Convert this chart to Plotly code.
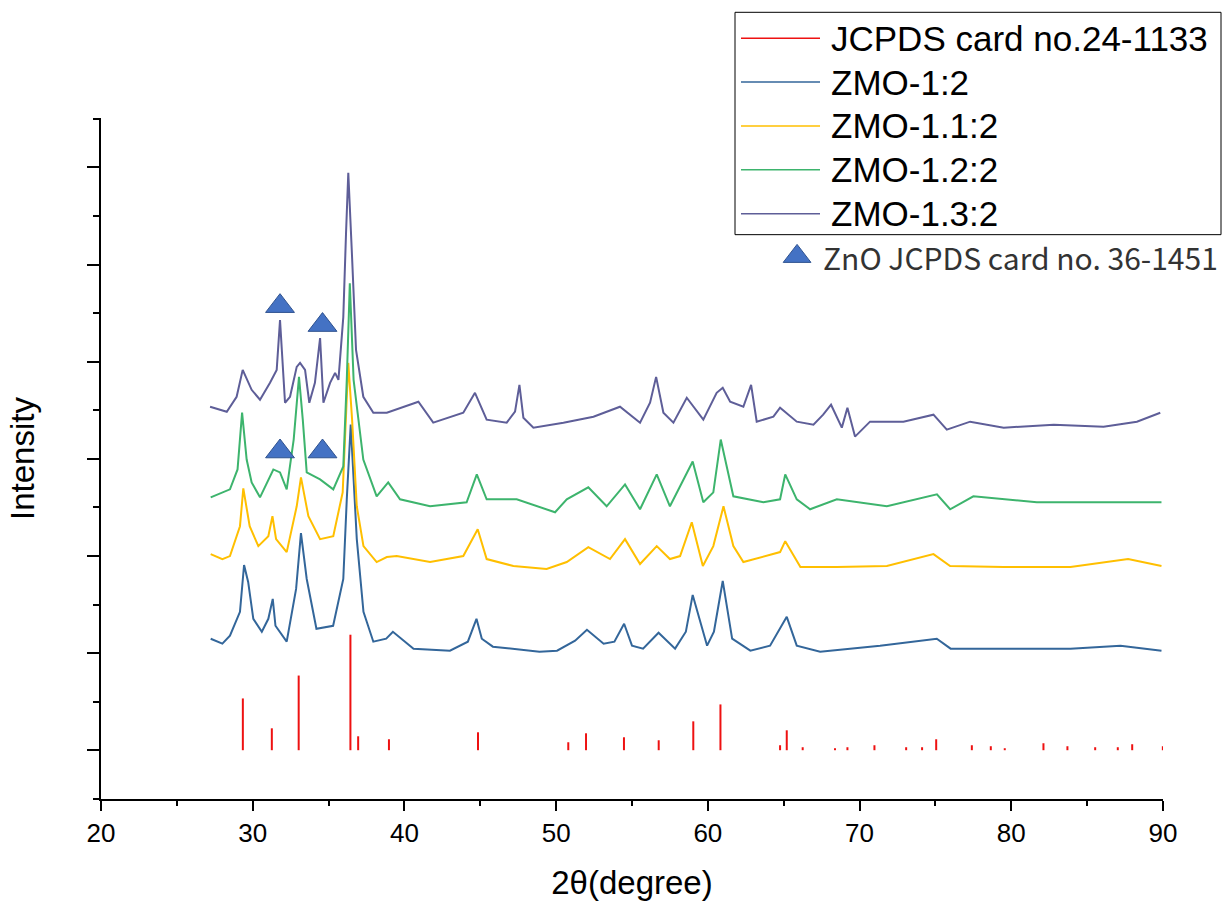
import plotly.graph_objects as go

# ---------------- data (2θ in degrees, intensity in a.u.) ----------------
stick_pos = [29.35, 31.26, 33.03, 36.44, 36.95, 38.98, 44.85, 50.80, 51.97, 54.47,
             56.76, 59.04, 60.83, 64.76, 65.20, 66.25, 68.38, 69.20, 70.98, 73.07,
             74.12, 75.05, 77.40, 78.65, 79.57, 82.12, 83.70, 85.53, 87.02, 87.97, 89.99]
stick_height = [52, 22, 75, 116, 14, 11, 18, 8, 17, 13,
                10, 29, 46, 5, 20, 3, 2, 3, 5, 3,
                3, 11, 5, 4, 2, 7, 4, 3, 3, 6, 4]
STICK_BASE = 49

zmo12_x = [27.23, 28.0, 28.5, 29.16, 29.43, 29.7, 30.04, 30.6, 31.03, 31.32, 31.5, 32.24,
           32.86, 33.18, 33.56, 34.2, 35.3, 35.97, 36.2, 36.46, 36.86, 37.3, 37.95, 38.8,
           39.24, 40.6, 43.0, 44.18, 44.75, 45.1, 45.83, 48.9, 50.06, 51.25, 52.03, 53.13,
           53.84, 54.48, 55.0, 55.73, 56.75, 57.84, 58.55, 59.0, 59.95, 60.4, 60.98, 61.6,
           62.8, 64.1, 65.2, 65.86, 67.4, 71.35, 75.09, 76.0, 79.5, 83.9, 87.2, 89.9]
zmo12_y = [161, 156, 164, 188, 235, 218, 181, 168, 181, 201, 174, 158,
           211, 267, 221, 171, 174, 221, 301, 376, 261, 188, 158, 161,
           168, 151, 149, 158, 181, 161, 153, 148, 149, 159, 170, 156,
           158, 176, 154, 151, 167, 151, 168, 205, 154, 168, 219, 161,
           149, 154, 183, 154, 148, 154, 161, 151, 151, 151, 154, 149]

zmo112_x = [27.23, 28.0, 28.5, 29.16, 29.38, 29.8, 30.37, 31.03, 31.3, 31.54, 32.24, 32.9,
            33.18, 33.67, 34.44, 35.31, 35.93, 36.1, 36.3, 36.55, 36.86, 37.3, 38.17, 38.84,
            39.49, 41.69, 43.88, 44.83, 45.42, 47.18, 49.37, 50.7, 52.12, 53.55, 54.54, 55.53,
            56.63, 57.5, 58.17, 58.94, 59.67, 60.36, 61.03, 61.68, 62.34, 64.76, 65.1, 66.1,
            68.5, 71.8, 74.87, 75.97, 79.5, 83.9, 87.7, 89.9]
zmo112_y = [246, 241, 244, 274, 312, 274, 254, 264, 284, 261, 248, 294,
            323, 284, 261, 264, 308, 361, 438, 381, 294, 254, 238, 243,
            244, 238, 244, 271, 241, 234, 231, 238, 253, 241, 261, 236,
            254, 241, 244, 278, 234, 254, 294, 254, 238, 248, 259, 233,
            233, 234, 246, 234, 233, 233, 241, 234]

zmo122_x = [27.23, 28.5, 29.0, 29.3, 29.6, 29.93, 30.48, 31.36, 31.8, 32.24, 32.7, 33.05,
            33.3, 33.56, 34.44, 35.31, 35.97, 36.2, 36.4, 36.65, 37.29, 38.17, 38.93, 39.71,
            41.69, 44.1, 44.77, 45.42, 47.4, 49.93, 50.7, 52.12, 53.33, 54.54, 55.53, 56.63,
            57.5, 59.0, 59.7, 60.36, 60.85, 61.68, 63.66, 64.76, 65.1, 65.86, 66.74, 68.5,
            71.8, 75.1, 75.97, 77.5, 81.68, 86.1, 89.9]
zmo122_y = [303, 311, 331, 388, 341, 318, 303, 331, 328, 311, 361, 424,
            381, 328, 321, 311, 334, 421, 518, 421, 341, 304, 318, 301,
            294, 298, 326, 301, 301, 288, 301, 313, 294, 316, 291, 326,
            294, 339, 298, 308, 361, 304, 298, 301, 326, 301, 291, 301,
            294, 306, 291, 304, 298, 298, 298]

zmo132_x = [27.19, 28.29, 28.94, 29.34, 29.93, 30.48, 31.14, 31.58, 31.8, 32.13, 32.46, 32.9,
            33.12, 33.45, 33.73, 34.1, 34.44, 34.66, 35.1, 35.43, 35.65, 35.97, 36.15, 36.3,
            36.53, 36.81, 37.29, 37.95, 38.84, 40.92, 41.9, 43.88, 44.65, 45.42, 46.74, 47.29,
            47.58, 47.84, 48.5, 50.48, 52.46, 54.21, 55.53, 56.19, 56.59, 57.07, 57.73, 58.61,
            59.7, 60.58, 60.98, 61.47, 62.34, 62.85, 63.22, 64.32, 64.76, 65.86, 66.96, 67.6,
            68.12, 68.83, 69.2, 69.7, 70.69, 72.89, 74.87, 75.75, 77.29, 79.5, 82.8, 86.08,
            88.28, 89.82]
zmo132_y = [394, 389, 404, 431, 411, 401, 418, 431, 481, 398, 404, 434,
            438, 431, 398, 418, 463, 398, 418, 428, 421, 484, 568, 629,
            551, 451, 404, 388, 388, 399, 378, 388, 408, 381, 378, 389,
            416, 383, 373, 378, 384, 394, 378, 398, 424, 388, 378, 403,
            381, 408, 413, 399, 394, 416, 379, 384, 393, 379, 376, 386,
            396, 373, 393, 364, 379, 379, 386, 371, 379, 373, 376, 374,
            379, 388]

zno_x = [31.8, 34.6, 31.8, 34.6]
zno_y = [495, 476, 349, 349]

legend_labels = ["JCPDS card no.24-1133", "ZMO-1:2", "ZMO-1.1:2", "ZMO-1.2:2", "ZMO-1.3:2"]
series_colors = ["#33669A", "#FFBF00", "#3DB46D", "#5E5E98"]
stick_color = "#EE1111"
zno_label = "ZnO JCPDS card no. 36-1451"

FONT = "Liberation Sans, Arial, sans-serif"

fig = go.Figure()

# JCPDS sticks
sx, sy = [], []
for p, h in zip(stick_pos, stick_height):
    sx += [p, p, None]
    sy += [STICK_BASE, STICK_BASE + h, None]
fig.add_trace(go.Scatter(x=sx, y=sy, mode="lines", name=legend_labels[0], showlegend=False,
                         line=dict(color=stick_color, width=2), connectgaps=False))

xs = [zmo12_x, zmo112_x, zmo122_x, zmo132_x]
ys = [zmo12_y, zmo112_y, zmo122_y, zmo132_y]
for name, col, x, y in zip(legend_labels[1:], series_colors, xs, ys):
    fig.add_trace(go.Scatter(x=x, y=y, mode="lines", name=name, showlegend=False,
                             line=dict(color=col, width=2)))

# ZnO markers
fig.add_trace(go.Scatter(x=zno_x, y=zno_y, mode="markers", showlegend=False,
                         marker=dict(symbol="triangle-up", size=25, color="#4472C4",
                                     line=dict(color="#2F528F", width=1))))

# ---------------- legend box (drawn in paper coordinates) ----------------
W, H = 1224, 907
L, R, T, B = 101, 61, 118, 106
pw, ph = W - L - R, H - T - B


def px(xp):
    return (xp - L) / pw


def py(yp):
    return (H - B - yp) / ph


fig.add_shape(type="rect", xref="paper", yref="paper",
              x0=px(735), x1=px(1221), y0=py(235), y1=py(12),
              line=dict(color="black", width=1), fillcolor="white", layer="above")
leg_colors = [stick_color] + series_colors
for i, (lab, col) in enumerate(zip(legend_labels, leg_colors)):
    yy = 38 + i * 44
    fig.add_shape(type="line", xref="paper", yref="paper",
                  x0=px(741), x1=px(820), y0=py(yy), y1=py(yy),
                  line=dict(color=col, width=1.5), layer="above")
    fig.add_annotation(x=px(829), y=py(yy), xref="paper", yref="paper", text=lab,
                       showarrow=False, xanchor="left", yanchor="middle",
                       font=dict(family=FONT, size=35, color="black"))

# ZnO key under the legend box
fig.add_trace(go.Scatter(x=[65.88], y=[545], mode="markers", showlegend=False,
                         marker=dict(symbol="triangle-up", size=24, color="#4472C4",
                                     line=dict(color="#2F528F", width=1))))
fig.add_annotation(x=px(821), y=py(257), xref="paper", yref="paper", text=zno_label,
                   showarrow=False, xanchor="left", yanchor="middle",
                   font=dict(family="Noto Sans CJK SC, Noto Sans, sans-serif", size=30, color="#333333"))

fig.update_layout(
    width=W, height=H,
    margin=dict(l=L, r=R, t=T, b=B),
    plot_bgcolor="white", paper_bgcolor="white",
    font=dict(family=FONT, color="black"),
    showlegend=False,
)
fig.update_xaxes(range=[20, 90], dtick=10, tick0=20, showline=True, linecolor="black", linewidth=2,
                 ticks="outside", ticklen=10, tickwidth=2, tickcolor="black",
                 minor=dict(dtick=5, tick0=20, ticks="outside", ticklen=5, tickwidth=2, tickcolor="black"),
                 showgrid=False, zeroline=False,
                 tickfont=dict(family=FONT, size=26, color="black"),
                 title=dict(text="2θ(degree)", font=dict(family=FONT, size=33, color="black"), standoff=24))
fig.update_yaxes(range=[0, 684], tick0=48.8, dtick=97.6, showline=True, linecolor="black", linewidth=2,
                 ticks="outside", ticklen=12, tickwidth=2, tickcolor="black", showticklabels=False,
                 minor=dict(dtick=97.6, tick0=0, ticks="outside", ticklen=6, tickwidth=2, tickcolor="black"),
                 showgrid=False, zeroline=False,
                 title=dict(text="Intensity", font=dict(family=FONT, size=33, color="black"), standoff=42))

fig.write_html("out.html")
